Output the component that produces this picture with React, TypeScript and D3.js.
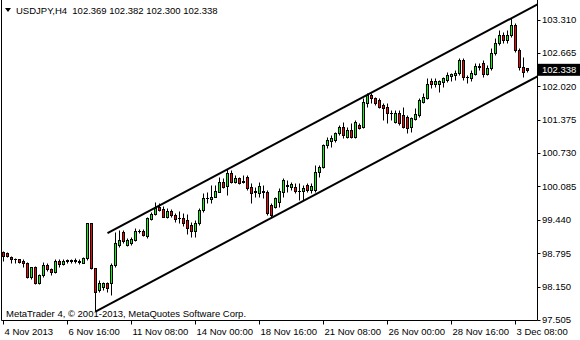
import React from "react";
import * as d3 from "d3";

const symbolTitle = "USDJPY,H4  102.369 102.382 102.300 102.338";
const copyright = "MetaTrader 4, © 2001-2013, MetaQuotes Software Corp.";
const currentPrice = 102.338;

const priceTicks = [103.31, 102.665, 102.02, 101.375, 100.73, 100.085, 99.44, 98.795, 98.15, 97.505];
const timeTickBars = [0, 16, 32, 48, 64, 80, 96, 112, 128];
const timeTickLabels = ["4 Nov 2013", "6 Nov 16:00", "11 Nov 08:00", "14 Nov 00:00", "18 Nov 16:00", "21 Nov 08:00", "26 Nov 00:00", "28 Nov 16:00", "3 Dec 08:00"];

const open = [
  98.818, 98.799, 98.728, 98.683, 98.683, 98.645, 98.612, 98.330, 98.523, 98.214,
  98.374, 98.562, 98.484, 98.438, 98.650, 98.581, 98.650, 98.645, 98.658, 98.639,
  98.612, 98.697, 99.373, 98.504, 98.084, 98.137, 98.214, 98.225, 98.567, 98.954,
  99.211, 98.954, 98.986, 99.050, 99.224, 99.230, 99.127, 99.456, 99.547, 99.693,
  99.643, 99.500, 99.610, 99.533, 99.475, 99.469, 99.436, 99.340, 99.218, 99.373,
  99.630, 99.856, 99.836, 99.887, 99.983, 100.176, 100.093, 100.339, 100.176, 100.242,
  100.171, 100.273, 100.068, 99.983, 99.952, 99.997, 99.983, 99.726, 99.682, 99.790,
  99.983, 100.099, 100.080, 100.080, 99.997, 99.997, 100.113, 100.016, 100.016, 100.369,
  100.466, 100.885, 100.962, 100.982, 101.111, 101.239, 101.046, 101.175, 101.046, 101.272,
  101.239, 101.691, 101.851, 101.787, 101.754, 101.658, 101.625, 101.498, 101.335, 101.498,
  101.465, 101.432, 101.239, 101.387, 101.465, 101.722, 101.787, 102.127, 102.064, 102.064,
  102.108, 102.141, 102.218, 102.237, 102.270, 102.527, 102.205, 102.174, 102.257, 102.411,
  102.463, 102.257, 102.367, 102.657, 102.861, 103.010, 102.913, 103.010, 103.203, 102.720,
  102.398, 102.369,
];
const high = [
  98.838, 98.818, 98.741, 98.708, 98.689, 98.677, 98.631, 98.534, 98.548, 98.393,
  98.631, 98.600, 98.504, 98.677, 98.677, 98.689, 98.689, 98.689, 98.697, 98.689,
  98.728, 99.384, 99.379, 98.509, 98.278, 98.245, 98.245, 98.600, 99.211, 99.243,
  99.243, 99.083, 99.114, 99.276, 99.257, 99.257, 99.500, 99.597, 99.778, 99.771,
  99.707, 99.662, 99.643, 99.566, 99.610, 99.566, 99.552, 99.404, 99.436, 99.662,
  99.952, 99.983, 100.113, 100.113, 100.273, 100.242, 100.416, 100.402, 100.306, 100.273,
  100.306, 100.306, 100.145, 100.080, 100.176, 100.113, 100.016, 99.765, 99.875, 100.049,
  100.242, 100.209, 100.176, 100.145, 100.145, 100.113, 100.151, 100.151, 100.499, 100.499,
  100.905, 101.046, 101.078, 101.142, 101.272, 101.335, 101.239, 101.304, 101.368, 101.316,
  101.787, 101.884, 101.895, 101.818, 101.787, 101.691, 101.691, 101.561, 101.561, 101.561,
  101.625, 101.465, 101.432, 101.594, 101.787, 101.884, 102.174, 102.174, 102.174, 102.141,
  102.205, 102.301, 102.282, 102.334, 102.560, 102.560, 102.237, 102.334, 102.463, 102.463,
  102.527, 102.431, 102.753, 102.946, 103.107, 103.074, 103.107, 103.333, 103.236, 102.753,
  102.591, 102.382,
];
const low = [
  98.645, 98.722, 98.606, 98.612, 98.612, 98.534, 98.310, 98.291, 98.200, 98.195,
  98.341, 98.457, 98.374, 98.419, 98.534, 98.567, 98.600, 98.606, 98.600, 98.581,
  98.600, 98.664, 98.484, 97.679, 98.052, 98.084, 98.052, 97.988, 98.534, 98.921,
  98.986, 98.934, 98.954, 99.031, 99.191, 99.127, 99.083, 99.436, 99.533, 99.610,
  99.489, 99.469, 99.500, 99.404, 99.373, 99.321, 99.166, 99.114, 99.114, 99.340,
  99.597, 99.759, 99.759, 99.875, 99.977, 100.060, 99.919, 100.145, 100.145, 100.132,
  100.151, 100.016, 99.771, 99.887, 99.887, 99.856, 99.533, 99.494, 99.662, 99.693,
  99.887, 99.983, 100.016, 99.964, 99.823, 99.823, 99.983, 99.958, 99.983, 100.273,
  100.435, 100.821, 100.852, 100.949, 101.078, 101.015, 101.015, 101.015, 101.015, 101.188,
  101.208, 101.625, 101.691, 101.658, 101.594, 101.368, 101.304, 101.368, 101.304, 101.272,
  101.208, 101.111, 101.142, 101.368, 101.432, 101.691, 101.768, 101.980, 102.011, 101.915,
  102.011, 102.108, 102.127, 102.141, 102.237, 102.141, 102.077, 102.127, 102.237, 102.334,
  102.205, 102.237, 102.334, 102.624, 102.817, 102.850, 102.850, 102.977, 102.687, 102.334,
  102.205, 102.300,
];
const close = [
  98.741, 98.741, 98.677, 98.677, 98.631, 98.600, 98.330, 98.523, 98.214, 98.368,
  98.562, 98.484, 98.426, 98.650, 98.581, 98.650, 98.658, 98.658, 98.650, 98.631,
  98.708, 99.373, 98.504, 98.052, 98.225, 98.214, 98.117, 98.567, 98.986, 99.050,
  99.037, 99.050, 99.064, 99.224, 99.230, 99.141, 99.469, 99.547, 99.662, 99.630,
  99.500, 99.610, 99.533, 99.456, 99.469, 99.384, 99.282, 99.218, 99.379, 99.630,
  99.856, 99.867, 99.887, 99.997, 100.176, 100.080, 100.339, 100.176, 100.242, 100.145,
  100.190, 100.049, 99.952, 99.991, 100.093, 99.977, 99.566, 99.533, 99.856, 100.002,
  100.209, 100.107, 100.126, 99.997, 99.991, 100.049, 100.016, 100.093, 100.369, 100.466,
  100.885, 100.982, 101.015, 101.111, 101.239, 101.078, 101.175, 101.046, 101.335, 101.208,
  101.722, 101.851, 101.787, 101.691, 101.625, 101.594, 101.498, 101.503, 101.498, 101.304,
  101.239, 101.208, 101.401, 101.484, 101.754, 101.807, 102.064, 102.064, 102.127, 102.127,
  102.174, 102.237, 102.257, 102.282, 102.527, 102.205, 102.199, 102.270, 102.411, 102.386,
  102.257, 102.367, 102.668, 102.861, 103.010, 102.913, 103.010, 103.203, 102.720, 102.398,
  102.301, 102.338,
];

// channel anchors: [bar index, price]
const upperChannel: [number, number][] = [[26, 99.185], [131, 103.5]];
const lowerChannel: [number, number][] = [[23, 97.669], [131, 102.11]];

const BULL = "#00ff00";
const BEAR = "#ff0000";
const FONT = "'Liberation Sans', Arial, sans-serif";

export default function App() {
  const W = 580, H = 340;
  const frameL = 1.5, frameR = 537.5, frameB = 320.5;
  const x = d3.scaleLinear().domain([0, 131]).range([3.5, 527.5]);
  const yRaw = d3.scaleLinear().domain([97.505, 103.31]).range([320, 19.5]);
  const y = (p: number) => Math.round(yRaw(p)) + 0.5;

  const ray = (pts: [number, number][]) => {
    const [b0, p0] = pts[0];
    const [b1, p1] = pts[1];
    const bEnd = x.invert(frameR);
    const pEnd = p0 + ((p1 - p0) * (bEnd - b0)) / (b1 - b0);
    return d3.line()([[x(b0), yRaw(p0)], [frameR, yRaw(pEnd)]]) as string;
  };

  const candles = open.map((o, i) => {
    const c = close[i];
    const cx = x(i);
    const yo = y(o), yc = y(c);
    const top = Math.min(yo, yc), bot = Math.max(yo, yc);
    const col = c >= o ? BULL : BEAR;
    return (
      <g key={i}>
        <line x1={cx} x2={cx} y1={y(high[i])} y2={y(low[i])} stroke="#000" strokeWidth={1} />
        {bot - top < 1 ? (
          <line x1={cx - 1.5} x2={cx + 1.5} y1={top} y2={top} stroke="#000" strokeWidth={1} />
        ) : (
          <rect x={cx - 1} y={top} width={2} height={bot - top} fill={col} stroke="#000" strokeWidth={1} />
        )}
      </g>
    );
  });

  return (
    <svg width={W} height={H} style={{ position: "absolute", left: 0, top: 0, background: "#fff" }}
      fontFamily={FONT}>
      <rect x={0} y={0} width={W} height={H} fill="#fff" />
      {/* frame */}
      <path d={`M${frameL},0 V${frameB} H${frameR} V0`} fill="none" stroke="#000" strokeWidth={1} />
      {candles}
      <path d={ray(upperChannel)} stroke="#000" strokeWidth={2} fill="none" />
      <path d={ray(lowerChannel)} stroke="#000" strokeWidth={2} fill="none" />
      {/* price axis */}
      {priceTicks.map((p, i) => (
        <g key={i}>
          <line x1={frameR} x2={frameR + 3} y1={y(p)} y2={y(p)} stroke="#000" />
          <text x={542} y={yRaw(p)} dy="0.35em" fontSize={9.5} fill="#000">{p.toFixed(3)}</text>
        </g>
      ))}
      <rect x={538} y={yRaw(currentPrice) - 6} width={42} height={12} fill="#000" />
      <text x={542} y={yRaw(currentPrice)} dy="0.35em" fontSize={9.5} fill="#fff">{currentPrice.toFixed(3)}</text>
      {/* time axis */}
      {timeTickBars.map((b, i) => (
        <g key={i}>
          <line x1={x(b)} x2={x(b)} y1={frameB} y2={frameB + 4} stroke="#000" />
          <text x={x(b) + 1} y={335} fontSize={9.5} fill="#000">{timeTickLabels[i]}</text>
        </g>
      ))}
      {/* header */}
      <path d="M5,8 L11,8 L8,12 Z" fill="#000" />
      <text x={16} y={13.5} fontSize={9.5} fill="#000" style={{ whiteSpace: "pre" }}>{symbolTitle}</text>
      <text x={6} y={317} fontSize={9.5} fill="#000">{copyright}</text>
    </svg>
  );
}
